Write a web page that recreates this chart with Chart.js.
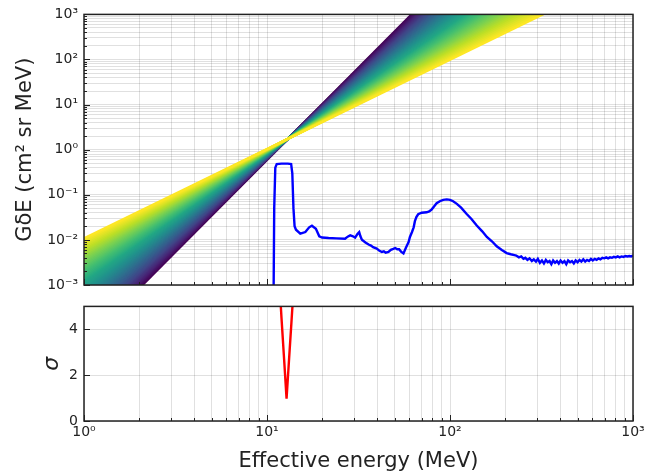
<!DOCTYPE html>
<html>
<head>
<meta charset="utf-8">
<script src="https://cdn.jsdelivr.net/npm/chart.js@4.4.1/dist/chart.umd.min.js"></script>
<style>
  html, body { margin: 0; padding: 0; background: #fff; }
  #wrap { position: relative; width: 661px; height: 474px; }
  #topo { position: absolute; left: 0; top: 0; }
  #baixo { position: absolute; left: 0; top: 292px; }
</style>
</head>
<body>
<div id="wrap">
  <canvas id="topo" width="661" height="300"></canvas>
  <canvas id="baixo" width="661" height="182"></canvas>
</div>
<script>
// curva azul: G*dE em função da energia efetiva
const energia = [10.85, 10.95, 11.1, 11.3, 12.0, 13.0, 13.55, 13.75, 13.95, 14.15, 14.4, 15.2, 16.2, 17.0, 17.6, 18.5, 19.3, 20.0, 21.7, 24.0,
  26.7, 27.6, 28.5, 29.5, 30.3, 31.2, 31.9, 32.4, 33.0, 34.5, 35.9, 37.0, 38.0, 39.8, 41.0, 42.4, 43.5, 44.5, 46.1, 47.5,
  49.0, 50.2, 51.5, 52.7, 54.0, 55.7, 57.5, 59.4, 60.4, 62.0, 63.3, 64.3, 65.5, 67.0, 70.0, 74.5, 77.0, 79.3, 82.0, 84.5,
  88.0, 91.8, 96.0, 100, 104, 109, 115, 123, 131, 140, 150, 159, 170, 180, 192, 204, 215, 225,
  230, 238, 245, 252, 258, 265, 272, 280, 287, 295, 302, 310, 318, 326, 334, 342, 350, 358, 366, 375,
  384, 393, 402, 412, 422, 432, 442, 453, 464, 475, 486, 498, 510, 522, 535, 548, 561, 575, 589, 603,
  618, 633, 648, 664, 680, 697, 714, 731, 749, 767, 786, 805, 825, 845, 866, 887, 909, 931, 954, 977, 1000];
const resposta = [0.0003, 0.05, 0.40, 0.48, 0.49, 0.49, 0.48, 0.30, 0.05, 0.020, 0.0168, 0.0137, 0.0149, 0.019, 0.0206, 0.0177, 0.0120, 0.0113, 0.0110, 0.0108,
  0.0106, 0.0118, 0.0126, 0.0120, 0.0112, 0.0135, 0.0149, 0.0120, 0.0101, 0.0088, 0.0079, 0.0075, 0.0069, 0.0064, 0.0058, 0.0054, 0.0056, 0.0052, 0.0054, 0.0060,
  0.0063, 0.0066, 0.0062, 0.0062, 0.0055, 0.0050, 0.0068, 0.0090, 0.0116, 0.015, 0.019, 0.026, 0.032, 0.037, 0.040, 0.041, 0.043, 0.047, 0.056, 0.065,
  0.072, 0.077, 0.079, 0.077, 0.072, 0.063, 0.052, 0.038, 0.029, 0.0209, 0.0155, 0.0116, 0.0092, 0.0072, 0.0060, 0.0051, 0.0048, 0.0046,
  0.0045, 0.0041, 0.0043, 0.0038, 0.0040, 0.0036, 0.0039, 0.0034, 0.0037, 0.0033, 0.0038, 0.0031, 0.0035, 0.0030, 0.0036, 0.0032, 0.0034, 0.0029, 0.0035, 0.0031,
  0.0034, 0.0030, 0.0035, 0.0031, 0.0034, 0.0029, 0.0035, 0.0032, 0.0034, 0.0030, 0.0035, 0.0032, 0.0036, 0.0033, 0.0037, 0.0033, 0.0036, 0.0034, 0.0038, 0.0035,
  0.0038, 0.0036, 0.0039, 0.0037, 0.0040, 0.0039, 0.0041, 0.0039, 0.0041, 0.0040, 0.0042, 0.0041, 0.0043, 0.0041, 0.0043, 0.0042, 0.0044, 0.0043, 0.0044, 0.0043, 0.0045];

// curva vermelha: sigma
const energiaSigma = [11.7, 12.0, 12.4, 12.79, 13.2, 13.6, 14.0];
const sigma = [6.0, 4.5, 2.7, 0.97, 2.7, 4.3, 5.9];

// leque de leis de potência que passam pelo pivô
const inclinacoes = [1.98, 2.015, 2.05, 2.085, 2.12, 2.155, 2.19, 2.225, 2.26, 2.295, 2.33, 2.365, 2.40, 2.435, 2.47, 2.505,
  2.54, 2.575, 2.61, 2.645, 2.68, 2.715, 2.75, 2.785, 2.82, 2.855, 2.89, 2.925, 2.96, 2.995, 3.03, 3.065,
  3.10, 3.135, 3.17, 3.205, 3.24, 3.275, 3.31, 3.345, 3.38, 3.415, 3.45, 3.485, 3.52, 3.555, 3.59, 3.625,
  3.66, 3.695, 3.73, 3.765, 3.80, 3.835, 3.87, 3.905, 3.94, 3.975, 4.01, 4.045, 4.08];
const pivoE = 13.0;
const pivoG = 1.74;

const limitesE = [1, 1000];
const limitesG = [1e-3, 1e3];
const limitesSigma = [0, 5];
const ticksSigma = [0, 2, 4];

const sobrescrito = { '0': '⁰', '1': '¹', '2': '²', '3': '³', '-': '⁻' };

function ehDecada(v) {
  const l = Math.log10(v);
  return Math.abs(l - Math.round(l)) < 1e-9;
}
function rotuloDecada(v) {
  const exp = String(Math.round(Math.log10(v)));
  return '10' + exp.split('').map(c => sobrescrito[c]).join('');
}
function gradeLog(lo, hi) {
  const vals = [];
  for (let k = Math.round(Math.log10(lo)); k < Math.round(Math.log10(hi)); k++) {
    for (let m = 1; m <= 9; m++) vals.push(parseFloat((m * Math.pow(10, k)).toPrecision(6)));
  }
  vals.push(hi);
  return vals.map(v => ({ value: v }));
}

// viridis
const paradas = ['#440154', '#482475', '#414487', '#355f8d', '#2a788e', '#21918c', '#22a884', '#44bf70', '#7ad151', '#bddf26', '#fde725'];
function viridis(t) {
  const p = Math.min(Math.max(t, 0), 1) * (paradas.length - 1);
  const i = Math.min(Math.floor(p), paradas.length - 2);
  const f = p - i;
  const a = paradas[i], b = paradas[i + 1];
  const c = j => Math.round(parseInt(a.substr(j, 2), 16) * (1 - f) + parseInt(b.substr(j, 2), 16) * f);
  return `rgb(${c(1)}, ${c(3)}, ${c(5)})`;
}

const fonte = 'DejaVu Sans';
const corTexto = '#222';
const corGrade = 'rgba(0, 0, 0, 0.12)';

// moldura e ticks para dentro
const moldura = {
  id: 'moldura',
  afterDraw(chart) {
    const { ctx, chartArea: a, scales } = chart;
    ctx.save();
    ctx.strokeStyle = corTexto;
    ctx.lineWidth = 1;
    scales.x.ticks.forEach(t => {
      const px = Math.round(scales.x.getPixelForValue(t.value)) + 0.5;
      const len = ehDecada(t.value) ? 6 : 3;
      ctx.beginPath();
      ctx.moveTo(px, a.bottom);
      ctx.lineTo(px, a.bottom - len);
      ctx.stroke();
    });
    scales.y.ticks.forEach(t => {
      const py = Math.round(scales.y.getPixelForValue(t.value)) + 0.5;
      const len = (scales.y.type === 'linear' || ehDecada(t.value)) ? 6 : 3;
      ctx.beginPath();
      ctx.moveTo(a.left, py);
      ctx.lineTo(a.left + len, py);
      ctx.stroke();
    });
    ctx.lineWidth = 1.5;
    ctx.strokeRect(a.left, a.top, a.right - a.left, a.bottom - a.top);
    ctx.restore();
  }
};

const eixoXLog = (mostrar, altura) => ({
  type: 'logarithmic',
  min: limitesE[0],
  max: limitesE[1],
  afterBuildTicks: s => { s.ticks = gradeLog(limitesE[0], limitesE[1]); },
  afterFit: s => { s.height = altura; },
  grid: { color: corGrade, drawTicks: false },
  border: { display: false },
  ticks: {
    display: mostrar,
    autoSkip: false,
    maxRotation: 0,
    padding: 3,
    color: corTexto,
    font: { family: fonte, size: 14 },
    callback: v => ehDecada(v) ? rotuloDecada(v) : ''
  },
  title: {
    display: mostrar,
    text: 'Effective energy (MeV)',
    color: corTexto,
    font: { family: fonte, size: 21 },
    padding: { top: 0, bottom: 0 }
  }
});

const comum = {
  responsive: false,
  animation: false,
  events: [],
  plugins: { legend: { display: false }, tooltip: { enabled: false } }
};

// gráfico de cima
// retas grossas + preenchimento entre vizinhas para o leque ficar contínuo
const gMax = inclinacoes[inclinacoes.length - 1];
const gMin = inclinacoes[0];
const conjuntosLeque = inclinacoes.map((g, i) => {
  const cor = viridis((gMax - g) / (gMax - gMin));
  return {
    data: limitesE.map(e => ({ x: e, y: pivoG * Math.pow(e / pivoE, g) })),
    borderColor: cor,
    backgroundColor: cor,
    borderWidth: 2.4,
    pointRadius: 0,
    fill: i === 0 ? false : '-1'
  };
});

new Chart(document.getElementById('topo').getContext('2d'), {
  type: 'line',
  data: {
    datasets: [{
      data: energia.map((e, i) => ({ x: e, y: resposta[i] })),
      borderColor: '#0000ff',
      borderWidth: 2.4,
      pointRadius: 0,
      fill: false
    }, ...conjuntosLeque]
  },
  options: {
    ...comum,
    layout: { padding: { top: 12, right: 28, bottom: 0, left: 0 } },
    scales: {
      x: eixoXLog(false, 15),
      y: {
        type: 'logarithmic',
        min: limitesG[0],
        max: limitesG[1],
        afterBuildTicks: s => { s.ticks = gradeLog(limitesG[0], limitesG[1]); },
        afterFit: s => { s.width = 84; },
        grid: { color: corGrade, drawTicks: false },
        border: { display: false },
        ticks: {
          autoSkip: false,
          padding: 6,
          color: corTexto,
          font: { family: fonte, size: 14 },
          callback: v => ehDecada(v) ? rotuloDecada(v) : ''
        },
        title: {
          display: true,
          text: 'GδE (cm² sr MeV)',
          color: corTexto,
          font: { family: fonte, size: 21 },
          padding: { top: 13, bottom: 0 }
        }
      }
    }
  },
  plugins: [moldura]
});

// gráfico de baixo
new Chart(document.getElementById('baixo').getContext('2d'), {
  type: 'line',
  data: {
    datasets: [{
      data: energiaSigma.map((e, i) => ({ x: e, y: sigma[i] })),
      borderColor: '#ff0000',
      borderWidth: 2.4,
      pointRadius: 0,
      fill: false
    }]
  },
  options: {
    ...comum,
    layout: { padding: { top: 12, right: 28, bottom: 0, left: 0 } },
    scales: {
      x: eixoXLog(true, 53),
      y: {
        type: 'linear',
        min: limitesSigma[0],
        max: limitesSigma[1],
        afterBuildTicks: s => { s.ticks = ticksSigma.map(v => ({ value: v })); },
        afterFit: s => { s.width = 84; },
        grid: { color: corGrade, drawTicks: false },
        border: { display: false },
        ticks: {
          padding: 6,
          color: corTexto,
          font: { family: fonte, size: 14 },
          callback: v => String(v)
        },
        title: {
          display: true,
          text: 'σ',
          color: corTexto,
          font: { family: fonte, size: 22, style: 'italic' },
          padding: { top: 39, bottom: 0 }
        }
      }
    }
  },
  plugins: [moldura]
});
</script>
</body>
</html>
